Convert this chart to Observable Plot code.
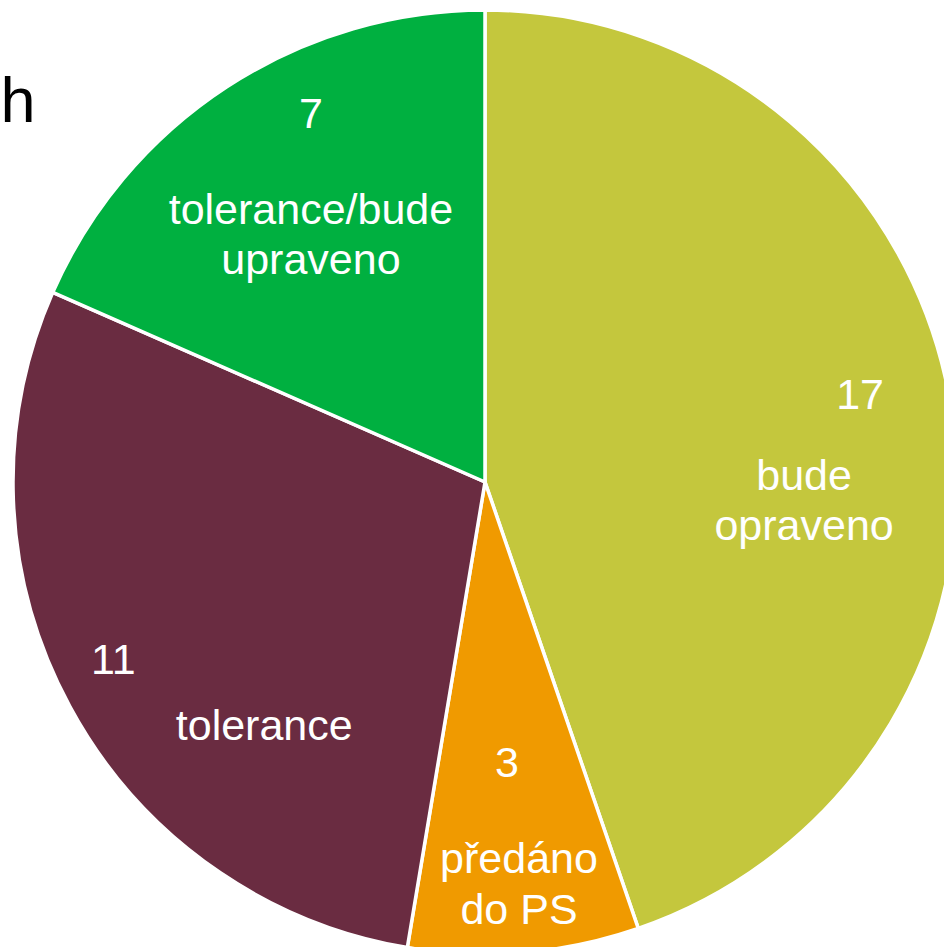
<!DOCTYPE html>
<html>
<head>
<meta charset="utf-8">
<script src="https://cdn.jsdelivr.net/npm/d3@7"></script>
<script src="https://cdn.jsdelivr.net/npm/@observablehq/plot@0.6"></script>
<style>
  html, body { margin: 0; padding: 0; background: #fff; overflow: hidden; }
  #chart svg { display: block; }
</style>
</head>
<body>
<div id="chart"></div>
<script>
// ---- data ----
const categories = ["bude opraveno", "předáno do PS", "tolerance", "tolerance/bude upraveno"];
const categoryLines = [["bude", "opraveno"], ["předáno", "do PS"], ["tolerance"], ["tolerance/bude", "upraveno"]];
const values = [17, 3, 11, 7];
const colors = ["#C4C73D", "#F09A00", "#6A2C41", "#00B040"];
const titleText = "ch";

// ---- layout ----
const W = 944, H = 947;
const CX = 485, CY = 482, R = 472;        // pie centre (px) and radius
const LABEL_K = 0.68;                       // label anchor radius fraction
// per-slice label nudges (value, category) in px, mimicking the original placement
const valueNudge = [[58, -34], [-5, -39], [-90, 25], [1, -100]];
const catNudge = [[2, 69], [7, 80], [61, 89], [1, 19]];
const FONT = "Liberation Sans, Arial, Helvetica, sans-serif";

const table = categories.map((c, i) => ({category: c, value: values[i], color: colors[i], lines: categoryLines[i]}));
const arcs = d3.pie().sort(null).value(d => d.value)(table);

const labelRows = arcs.map((a, i) => {
  const mid = (a.startAngle + a.endAngle) / 2;
  const ax = Math.sin(mid) * R * LABEL_K;
  const ay = -Math.cos(mid) * R * LABEL_K;
  return {
    vx: ax + valueNudge[i][0], vy: ay + valueNudge[i][1],
    cx: ax + catNudge[i][0], cy: ay + catNudge[i][1],
    valueText: String(a.data.value),
    catText: a.data.lines.join("\n")
  };
});

const arcGen = d3.arc().innerRadius(0).outerRadius(R);

function pieMark(index, scales) {
  const g = d3.create("svg:g")
    .attr("transform", `translate(${scales.x(0)},${scales.y(0)})`);
  g.selectAll("path")
    .data(arcs)
    .join("path")
    .attr("d", arcGen)
    .attr("fill", d => d.data.color)
    .attr("stroke", "#fff")
    .attr("stroke-width", 3.5)
    .attr("stroke-linejoin", "round");
  return g.node();
}

const chart = Plot.plot({
  width: W,
  height: H,
  margin: 0,
  style: {fontFamily: FONT, background: "#fff"},
  x: {domain: [-CX, W - CX], range: [0, W], axis: null},
  y: {domain: [-CY, H - CY], range: [0, H], axis: null},
  marks: [
    pieMark,
    Plot.text(labelRows, {x: "vx", y: "vy", text: "valueText", fill: "#fff", fontSize: 43, fontFamily: FONT}),
    Plot.text(labelRows, {x: "cx", y: "cy", text: "catText", fill: "#fff", fontSize: 43, lineHeight: 1.17, fontFamily: FONT}),
    Plot.text([titleText], {frameAnchor: "top-left", text: d => d, dx: 35, dy: 77, textAnchor: "end", fill: "#000", fontSize: 63, fontFamily: FONT})
  ]
});
document.getElementById("chart").appendChild(chart);
</script>
</body>
</html>
